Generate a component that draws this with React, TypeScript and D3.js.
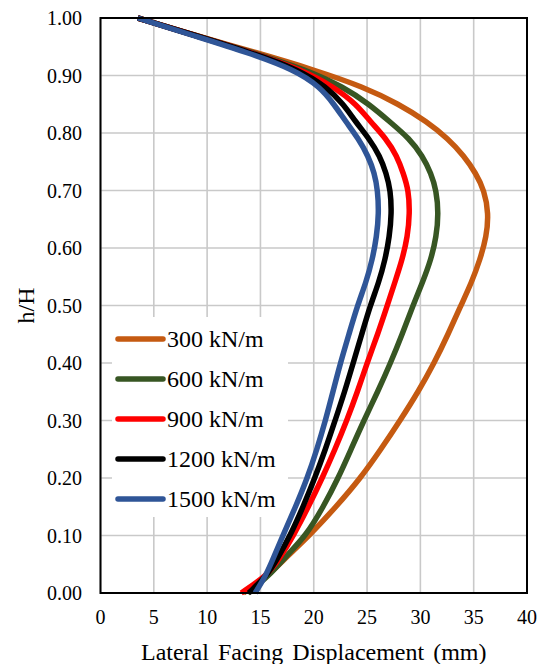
import React, { useEffect, useState } from "react";
import * as d3 from "d3";

type Pt = [number, number];

const xTicks = [0, 5, 10, 15, 20, 25, 30, 35, 40];
const yTicks = [0, 0.1, 0.2, 0.3, 0.4, 0.5, 0.6, 0.7, 0.8, 0.9, 1.0];

const seriesNames = ["300 kN/m", "600 kN/m", "900 kN/m", "1200 kN/m", "1500 kN/m"];
const seriesColors = ["#C55A11", "#375623", "#FF0000", "#000000", "#2F5597"];

// [displacement (mm), h/H]
const s300: Pt[] = [
  [3.5, 1.0], [8.8, 0.97], [14.6, 0.94], [20.0, 0.91], [24.7, 0.88], [28.0, 0.85],
  [30.6, 0.82], [32.6, 0.79], [34.1, 0.76], [35.2, 0.73], [36.0, 0.70], [36.4, 0.66],
  [36.2, 0.62], [35.6, 0.58], [34.8, 0.54], [33.8, 0.50], [32.6, 0.45], [31.3, 0.40],
  [29.8, 0.35], [28.1, 0.30], [26.3, 0.25], [24.4, 0.20], [22.1, 0.15], [19.6, 0.10],
  [17.3, 0.06], [15.7, 0.03], [13.4, 0.0],
];
const s600: Pt[] = [
  [3.5, 1.0], [8.8, 0.97], [14.3, 0.94], [19.3, 0.91], [22.8, 0.88], [25.2, 0.85],
  [27.1, 0.82], [29.0, 0.79], [30.2, 0.76], [31.0, 0.73], [31.5, 0.70], [31.7, 0.66],
  [31.5, 0.62], [31.0, 0.58], [30.2, 0.54], [29.3, 0.50], [28.3, 0.45], [27.2, 0.40],
  [26.0, 0.35], [24.7, 0.30], [23.5, 0.25], [22.3, 0.20], [20.9, 0.15], [19.3, 0.10],
  [17.2, 0.06], [15.8, 0.03], [13.8, 0.0],
];
const s900: Pt[] = [
  [3.5, 1.0], [8.8, 0.97], [14.2, 0.94], [18.9, 0.91], [21.9, 0.88], [24.0, 0.85],
  [25.3, 0.82], [26.8, 0.79], [27.8, 0.76], [28.4, 0.73], [28.9, 0.70], [29.0, 0.66],
  [28.8, 0.62], [28.3, 0.58], [27.6, 0.54], [26.9, 0.50], [26.0, 0.45], [25.0, 0.40],
  [24.1, 0.35], [23.1, 0.30], [22.0, 0.25], [20.8, 0.20], [19.5, 0.15], [18.1, 0.10],
  [16.8, 0.06], [15.6, 0.03], [13.2, 0.0],
];
const s1200: Pt[] = [
  [3.5, 1.0], [8.8, 0.97], [14.1, 0.94], [18.6, 0.91], [21.2, 0.88], [22.8, 0.85],
  [23.9, 0.82], [25.2, 0.79], [26.2, 0.76], [26.8, 0.73], [27.2, 0.70], [27.3, 0.66],
  [27.1, 0.62], [26.7, 0.58], [26.1, 0.54], [25.3, 0.50], [24.5, 0.45], [23.7, 0.40],
  [22.9, 0.35], [22.0, 0.30], [21.1, 0.25], [20.1, 0.20], [19.0, 0.15], [17.8, 0.10],
  [16.6, 0.06], [15.6, 0.03], [13.9, 0.0],
];
const s1500: Pt[] = [
  [3.5, 1.0], [8.6, 0.97], [13.8, 0.94], [18.2, 0.91], [20.6, 0.88], [21.9, 0.85],
  [23.0, 0.82], [24.2, 0.79], [25.1, 0.76], [25.7, 0.73], [26.0, 0.70], [26.1, 0.66],
  [25.9, 0.62], [25.5, 0.58], [24.9, 0.54], [24.1, 0.50], [23.3, 0.45], [22.5, 0.40],
  [21.8, 0.35], [21.1, 0.30], [20.3, 0.25], [19.4, 0.20], [18.3, 0.15], [17.1, 0.10],
  [16.2, 0.06], [15.5, 0.03], [14.5, 0.0],
];
const seriesData = [s300, s600, s900, s1200, s1500];

const W = 544, H = 664;
const plot = { left: 100.5, right: 527, top: 18, bottom: 593 };
const FONT = "Liberation Serif";

export default function App() {
  const [, setTick] = useState(0);
  useEffect(() => {
    const fonts = (document as any).fonts;
    if (fonts && fonts.load) {
      Promise.all([fonts.load(`24px "${FONT}"`), fonts.load(`20px "${FONT}"`)])
        .then(() => setTick((t) => t + 1))
        .catch(() => {});
    }
  }, []);

  const x = d3.scaleLinear().domain([0, 40]).range([plot.left, plot.right]);
  const y = d3.scaleLinear().domain([0, 1]).range([plot.bottom, plot.top]);
  const line = d3
    .line<Pt>()
    .x((d) => x(d[0]))
    .y((d) => y(d[1]))
    .curve(d3.curveBasis);

  const legend = { x: 112, y: 317, w: 176, h: 200, lx1: 118, lx2: 163, tx: 167, y0: 339, dy: 40 };
  const ts = { fontFamily: FONT };

  return (
    <svg width={W} height={H} style={{ position: "absolute", left: 0, top: 0, background: "#fff" }}>
      <rect x={0} y={0} width={W} height={H} fill="#fff" />
      {xTicks.map((t) => (
        <line key={"gx" + t} x1={x(t)} x2={x(t)} y1={plot.top} y2={plot.bottom} stroke="#C9C9C9" strokeWidth={1.6} />
      ))}
      {yTicks.map((t) => (
        <line key={"gy" + t} x1={plot.left} x2={plot.right} y1={y(t)} y2={y(t)} stroke="#C9C9C9" strokeWidth={1.6} />
      ))}
      {seriesData.map((s, i) => (
        <path key={"s" + i} d={line(s) || ""} fill="none" stroke={seriesColors[i]} strokeWidth={5.5} strokeLinejoin="round" strokeLinecap="butt" />
      ))}
      <rect x={plot.left} y={plot.top} width={plot.right - plot.left} height={plot.bottom - plot.top} fill="none" stroke="#000" strokeWidth={2} />
      <rect x={legend.x} y={legend.y} width={legend.w} height={legend.h} fill="#fff" />
      {seriesNames.map((n, i) => (
        <g key={"lg" + i}>
          <line x1={legend.lx1} x2={legend.lx2} y1={legend.y0 + i * legend.dy} y2={legend.y0 + i * legend.dy} stroke={seriesColors[i]} strokeWidth={5.5} strokeLinecap="round" />
          <text x={legend.tx} y={legend.y0 + i * legend.dy + 8} fontSize={24} fill="#000" style={ts}>{n}</text>
        </g>
      ))}
      {yTicks.map((t) => (
        <text key={"ty" + t} x={82} y={y(t) + 7} textAnchor="end" fontSize={20} fill="#000" style={ts}>{t.toFixed(2)}</text>
      ))}
      {xTicks.map((t) => (
        <text key={"tx" + t} x={x(t)} y={624} textAnchor="middle" fontSize={20} fill="#000" style={ts}>{t}</text>
      ))}
      <text transform={`translate(34, ${(plot.top + plot.bottom) / 2}) rotate(-90)`} textAnchor="middle" fontSize={24} fill="#000" style={ts}>h/H</text>
      <text x={(plot.left + plot.right) / 2} y={660} textAnchor="middle" fontSize={24} fill="#000" style={{ ...ts, wordSpacing: "3px" }}>Lateral Facing Displacement (mm)</text>
    </svg>
  );
}
